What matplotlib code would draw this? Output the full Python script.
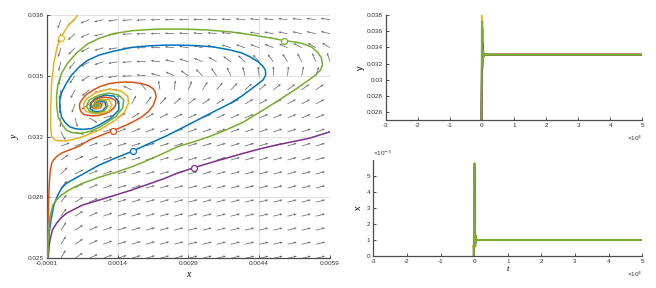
import numpy as np
import matplotlib
matplotlib.use('Agg')
import matplotlib.pyplot as plt

# ---------------- phase portrait trajectories (x, y) ----------------
blue_x = [-0.000077, -0.000069, -0.000052, -0.000010, 0.000052, 0.000135, 0.000219, 0.000317, 0.000594, 0.001010,
          0.001358, 0.001713, 0.002052, 0.002400, 0.002740, 0.003094, 0.003442, 0.003788, 0.004031, 0.004204,
          0.004344, 0.004483, 0.004538, 0.004531, 0.004483, 0.004385, 0.004204, 0.004031, 0.003788, 0.003442,
          0.003094, 0.002740, 0.002400, 0.002052, 0.001704, 0.001323, 0.001010, 0.000760, 0.000594, 0.000427,
          0.000317, 0.000219, 0.000177, 0.000177, 0.000213, 0.000281, 0.000385, 0.000510, 0.000663, 0.000844,
          0.001010, 0.001260, 0.001427, 0.001427, 0.001323, 0.001135, 0.000948, 0.000823, 0.000823, 0.000927,
          0.001073, 0.001156, 0.001135, 0.001010, 0.000927, 0.000927, 0.000990, 0.000990, 0.000927, 0.000885]
blue_y = [0.02480, 0.02544, 0.02624, 0.02705, 0.02785, 0.02838, 0.02876, 0.02901, 0.02940, 0.02998,
          0.03036, 0.03072, 0.03111, 0.03150, 0.03193, 0.03239, 0.03284, 0.03328, 0.03367, 0.03399,
          0.03426, 0.03453, 0.03479, 0.03506, 0.03524, 0.03549, 0.03577, 0.03597, 0.03613, 0.03629,
          0.03636, 0.03639, 0.03639, 0.03635, 0.03627, 0.03607, 0.03586, 0.03557, 0.03524, 0.03479,
          0.03435, 0.03388, 0.03346, 0.03303, 0.03256, 0.03228, 0.03203, 0.03192, 0.03189, 0.03193,
          0.03212, 0.03249, 0.03292, 0.03337, 0.03367, 0.03372, 0.03356, 0.03330, 0.03298, 0.03282,
          0.03287, 0.03308, 0.03335, 0.03340, 0.03330, 0.03308, 0.03308, 0.03319, 0.03319, 0.03314]

red_x = [-0.000088, -0.000083, -0.000073, -0.000060, -0.000046, -0.000031, -0.000010, 0.000004, 0.000042, 0.000108,
         0.000219, 0.000385, 0.000594, 0.000802, 0.001010, 0.001308, 0.001567, 0.001740, 0.001913, 0.002052,
         0.002156, 0.002219, 0.002198, 0.002156, 0.002052, 0.001913, 0.001740, 0.001567, 0.001385, 0.001219,
         0.001031, 0.000871, 0.000740, 0.000663, 0.000604, 0.000594, 0.000604, 0.000629, 0.000688, 0.000767,
         0.000885, 0.001010, 0.001115, 0.001219, 0.001302, 0.001358, 0.001365, 0.001358, 0.001254, 0.001094,
         0.000948, 0.000844, 0.000844, 0.000927, 0.001031, 0.001073, 0.001010, 0.000927, 0.000906, 0.000885]
red_y = [0.02480, 0.02571, 0.02678, 0.02811, 0.02892, 0.02954, 0.02988, 0.03007, 0.03025, 0.03043,
         0.03063, 0.03079, 0.03100, 0.03132, 0.03153, 0.03182, 0.03210, 0.03231, 0.03255, 0.03284,
         0.03317, 0.03362, 0.03388, 0.03406, 0.03423, 0.03433, 0.03440, 0.03442, 0.03439, 0.03433,
         0.03418, 0.03397, 0.03375, 0.03353, 0.03330, 0.03317, 0.03298, 0.03282, 0.03268, 0.03264,
         0.03261, 0.03264, 0.03271, 0.03282, 0.03298, 0.03317, 0.03332, 0.03344, 0.03356, 0.03362,
         0.03351, 0.03330, 0.03308, 0.03298, 0.03303, 0.03319, 0.03330, 0.03324, 0.03314, 0.03314]

yellow_x = [0.000635, 0.000510, 0.000385, 0.000281, 0.000198, 0.000121, 0.000052, 0.000004, -0.000017, -0.000017,
            0.000004, 0.000073, 0.000177, 0.000317, 0.000490, 0.000663, 0.001010, 0.001358, 0.001552, 0.001635,
            0.001615, 0.001469, 0.001219, 0.000969, 0.000760, 0.000677, 0.000719, 0.000865, 0.001052, 0.001219,
            0.001281, 0.001219, 0.001073, 0.000948, 0.000885, 0.000927, 0.001010, 0.001031, 0.000969, 0.000906,
            0.000885]
yellow_y = [0.03826, 0.03784, 0.03752, 0.03714, 0.03677, 0.03629, 0.03543, 0.03436, 0.03308, 0.03201,
            0.03151, 0.03132, 0.03127, 0.03128, 0.03137, 0.03150, 0.03185, 0.03239, 0.03282, 0.03330,
            0.03367, 0.03394, 0.03404, 0.03388, 0.03356, 0.03324, 0.03287, 0.03274, 0.03274, 0.03287,
            0.03319, 0.03346, 0.03351, 0.03340, 0.03319, 0.03303, 0.03303, 0.03319, 0.03324, 0.03319,
            0.03314]

purple_x = [-0.000073, -0.000067, -0.000052, -0.000031, 0.000021, 0.000108, 0.000198, 0.000317, 0.000490, 0.000663,
            0.001010, 0.001358, 0.001704, 0.002052, 0.002400, 0.002677, 0.003017, 0.003371, 0.003719, 0.004067,
            0.004406, 0.004760, 0.005108, 0.005454, 0.005802, 0.006010]
purple_y = [0.02480, 0.02500, 0.02555, 0.02598, 0.02651, 0.02687, 0.02715, 0.02740, 0.02763, 0.02785,
            0.02811, 0.02838, 0.02865, 0.02896, 0.02927, 0.02956, 0.02984, 0.03011, 0.03036, 0.03061,
            0.03084, 0.03105, 0.03123, 0.03141, 0.03168, 0.03185]

green_x = [-0.000077, -0.000077, -0.000067, -0.000031, 0.000031, 0.000108, 0.000198, 0.000317, 0.000490, 0.000663,
           0.001010, 0.001358, 0.001704, 0.002052, 0.002400, 0.002677, 0.003025, 0.003371, 0.003719, 0.004067,
           0.004483, 0.004823, 0.005177, 0.005448, 0.005594, 0.005698, 0.005740, 0.005719, 0.005635, 0.005510,
           0.005344, 0.005177, 0.004927, 0.004656, 0.004483, 0.004135, 0.003788, 0.003302, 0.002817, 0.002260,
           0.001704, 0.001323, 0.001010, 0.000760, 0.000525, 0.000344, 0.000213, 0.000135, 0.000108, 0.000115,
           0.000142, 0.000219, 0.000317, 0.000427, 0.000594, 0.000802, 0.001010, 0.001358, 0.001510, 0.001531,
           0.001427, 0.001219, 0.001010, 0.000802, 0.000740, 0.000802, 0.000948, 0.001115, 0.001198, 0.001156,
           0.001031, 0.000927, 0.000906, 0.000969, 0.001010, 0.000948, 0.000885]
green_y = [0.02480, 0.02502, 0.02598, 0.02722, 0.02785, 0.02811, 0.02835, 0.02856, 0.02881, 0.02901,
           0.02933, 0.02959, 0.02989, 0.03025, 0.03064, 0.03097, 0.03123, 0.03153, 0.03188, 0.03228,
           0.03292, 0.03346, 0.03404, 0.03452, 0.03479, 0.03506, 0.03533, 0.03570, 0.03602, 0.03629,
           0.03645, 0.03655, 0.03663, 0.03677, 0.03684, 0.03698, 0.03710, 0.03720, 0.03725, 0.03725,
           0.03716, 0.03701, 0.03675, 0.03645, 0.03595, 0.03543, 0.03488, 0.03426, 0.03363, 0.03308,
           0.03256, 0.03217, 0.03185, 0.03172, 0.03167, 0.03177, 0.03199, 0.03256, 0.03303, 0.03346,
           0.03372, 0.03383, 0.03372, 0.03346, 0.03314, 0.03287, 0.03276, 0.03287, 0.03314, 0.03340,
           0.03346, 0.03335, 0.03314, 0.03308, 0.03319, 0.03324, 0.03314]

# initial points (circles): blue, red, yellow, purple, green
start_x = [0.001719, 0.001308, 0.000198, 0.003017, 0.004933]
start_y = [0.03072, 0.03182, 0.03677, 0.02984, 0.03659]

# ---------------- direction field ----------------
field_x = [-0.0001, 0.0002, 0.0005, 0.0008, 0.0011, 0.0014, 0.0017, 0.0020, 0.0023, 0.0026, 0.0029,
           0.0032, 0.0035, 0.0038, 0.0041, 0.0044, 0.0047, 0.0050, 0.0053, 0.0056, 0.0059]
field_y = [0.025, 0.02575, 0.0265, 0.02725, 0.028, 0.02875, 0.0295, 0.03025, 0.031,
           0.03175, 0.0325, 0.03325, 0.034, 0.03475, 0.0355, 0.03625, 0.037, 0.03775]
# on-screen arrow direction (degrees), rows from top (y=0.03775) to bottom (y=0.025)
field_angle_top_down = [
    [270, 250, 218, 202, 193, 188, 185, 183, 181, 180, 179, 178, 177, 176, 175, 174, 174, 173, 173, 172, 172],
    [270, 252, 222, 204, 194, 188, 184, 181, 179, 177, 176, 175, 174, 173, 172, 171, 170, 169, 168, 167, 166],
    [270, 254, 226, 207, 196, 189, 184, 180, 177, 174, 171, 168, 165, 163, 161, 159, 157, 155, 152, 150, 148],
    [270, 256, 230, 210, 198, 190, 183, 178, 173, 168, 162, 156, 150, 144, 138, 132, 127, 122, 117, 112, 108],
    [270, 258, 235, 214, 200, 190, 182, 174, 165, 155, 145, 135, 125, 115, 105, 97, 90, 84, 78, 72, 66],
    [270, 260, 242, 220, 198, 175, 155, 128, 100, 82, 68, 58, 51, 46, 42, 40, 38, 37, 36, 35, 35],
    [270, 262, 250, 215, 150, 85, 62, 53, 47, 42, 38, 35, 33, 31, 30, 29, 29, 28, 28, 28, 28],
    [270, 266, 285, 330, 15, 30, 33, 30, 28, 26, 25, 24, 24, 23, 23, 22, 22, 22, 22, 22, 22],
    [270, 300, 345, 10, 18, 22, 22, 21, 20, 20, 20, 19, 19, 19, 19, 19, 19, 19, 19, 19, 19],
    [90, 20, 20, 20, 19, 18, 18, 18, 17, 17, 17, 17, 17, 17, 17, 17, 17, 17, 17, 17, 17],
    [90, 35, 25, 21, 19, 18, 17, 17, 17, 16, 16, 16, 16, 16, 16, 16, 16, 16, 16, 16, 16],
    [90, 45, 28, 22, 19, 18, 17, 16, 16, 16, 16, 16, 15, 15, 15, 15, 15, 15, 15, 15, 15],
    [90, 50, 30, 23, 20, 18, 17, 16, 16, 15, 15, 15, 15, 15, 15, 15, 15, 15, 15, 15, 15],
    [90, 52, 31, 23, 20, 18, 17, 16, 16, 15, 15, 15, 15, 14, 14, 14, 14, 14, 14, 14, 14],
    [90, 54, 32, 24, 20, 18, 17, 16, 15, 15, 15, 14, 14, 14, 14, 14, 14, 14, 14, 14, 14],
    [90, 56, 33, 24, 20, 18, 17, 16, 15, 15, 14, 14, 14, 14, 14, 14, 14, 14, 14, 14, 14],
    [90, 58, 34, 25, 21, 18, 17, 16, 15, 15, 14, 14, 14, 14, 14, 13, 13, 13, 13, 13, 13],
    [90, 60, 35, 25, 21, 18, 17, 16, 15, 15, 14, 14, 14, 14, 13, 13, 13, 13, 13, 13, 13],
]

# phase-plot ticks
phase_xticks = [-0.0001, 0.0014, 0.0029, 0.0044, 0.0059]
phase_xticklabels = ['-0.0001', '0.0014', '0.0029', '0.0044', '0.0059']
phase_yticks = [0.025, 0.02825, 0.0315, 0.03475, 0.038]
phase_yticklabels = ['0.025', '0.028', '0.032', '0.035', '0.038']

# ---------------- time series ----------------
ts_t = [-300, -100, 0, 100, 200, 300, 400, 500, 700, 1000, 50000]
ts_y_blue = [0.0200, 0.0270, 0.0307, 0.0364, 0.0340, 0.0319, 0.0334, 0.0329, 0.0331, 0.0331, 0.0331]
ts_y_red = [0.0200, 0.0280, 0.0318, 0.0344, 0.0328, 0.0334, 0.0330, 0.0331, 0.0331, 0.0331, 0.0331]
ts_y_yellow = [0.0450, 0.0400, 0.0368, 0.0313, 0.0338, 0.0327, 0.0333, 0.0330, 0.0331, 0.0331, 0.0331]
ts_y_purple = [0.0200, 0.0260, 0.0298, 0.0320, 0.0345, 0.0335, 0.0328, 0.0332, 0.0331, 0.0331, 0.0331]
ts_y_green = [0.0200, 0.0270, 0.0366, 0.0372, 0.0330, 0.0318, 0.0336, 0.0328, 0.0332, 0.0331, 0.0331]
ts_x_blue = [-0.0001, -0.00005, 0.00172, 0.0045, 0.0016, 0.0008, 0.0012, 0.0010, 0.0010, 0.0010, 0.0010]
ts_x_red = [-0.0001, -0.00005, 0.00131, 0.0022, 0.0007, 0.0013, 0.0009, 0.0010, 0.0010, 0.0010, 0.0010]
ts_x_yellow = [0.0006, 0.0003, 0.0002, 0.0016, 0.0007, 0.0012, 0.0009, 0.0010, 0.0010, 0.0010, 0.0010]
ts_x_purple = [-0.0001, -0.00005, 0.00302, 0.0056, 0.0025, 0.0007, 0.0012, 0.0010, 0.0010, 0.0010, 0.0010]
ts_x_green = [-0.0001, -0.00005, 0.00493, 0.0058, 0.0020, 0.0006, 0.0013, 0.0009, 0.0010, 0.0010, 0.0010]

t_ticks = [-30000, -20000, -10000, 0, 10000, 20000, 30000, 40000, 50000]
t_ticklabels = ['-3', '-2', '-1', '0', '1', '2', '3', '4', '5']
ts_y_ticks = [0.026, 0.028, 0.03, 0.032, 0.034, 0.036, 0.038]
ts_y_ticklabels = ['0.026', '0.028', '0.03', '0.032', '0.034', '0.036', '0.038']
ts_x_ticks = [0, 0.001, 0.002, 0.003, 0.004, 0.005]
ts_x_ticklabels = ['0', '1', '2', '3', '4', '5']

# ---------------- style ----------------
C_BLUE, C_RED, C_YEL, C_PUR, C_GRN = '#0072BD', '#D95319', '#EDB120', '#7E2F8E', '#77AC30'
colors = [C_BLUE, C_RED, C_YEL, C_PUR, C_GRN]
SPINE = '#4d4d4d'
TICKFONT = dict(family='Liberation Sans', size=4.6, color='#333333')

fig = plt.figure(figsize=(6.56, 2.88), dpi=100)
fig.patch.set_facecolor('white')


def style_axes(ax):
    for s in ['top', 'right']:
        ax.spines[s].set_visible(False)
    for s in ['left', 'bottom']:
        ax.spines[s].set_color(SPINE)
        ax.spines[s].set_linewidth(0.9)
    ax.tick_params(direction='in', length=2.5, width=0.7, color=SPINE, pad=2)


# ---- left: phase portrait ----
ax1 = fig.add_axes([46.7 / 656, (288 - 258.3) / 288, 283.3 / 656, 243.3 / 288])
style_axes(ax1)
ax1.set_xlim(-0.0001, 0.0059)
ax1.set_ylim(0.025, 0.038)
ax1.set_xticks(phase_xticks)
ax1.set_xticklabels(phase_xticklabels, fontdict=TICKFONT)
ax1.set_yticks(phase_yticks)
ax1.set_yticklabels(phase_yticklabels, fontdict=TICKFONT)
ax1.grid(True, color='#dcdcdc', linewidth=0.6)
ax1.set_axisbelow(True)

FX, FY = np.meshgrid(field_x, field_y)
ang = np.deg2rad(np.array(field_angle_top_down[::-1], dtype=float))
ax1.quiver(FX, FY, np.cos(ang), np.sin(ang), angles='uv', units='inches',
           scale_units='inches', scale=10.5, width=0.0075, headwidth=3.2,
           headlength=3.8, headaxislength=3.4, pivot='tail', color='#6a6a6a', zorder=2)

trajs = [(blue_x, blue_y), (red_x, red_y), (yellow_x, yellow_y), (purple_x, purple_y), (green_x, green_y)]
for (tx, ty), c in zip(trajs, colors):
    ax1.plot(tx, ty, color=c, lw=1.1, zorder=3, solid_joinstyle='round')
for sx, sy, c in zip(start_x, start_y, colors):
    ax1.plot([sx], [sy], 'o', ms=4.3, mfc='white', mec=c, mew=0.9, zorder=4)

ax1.set_xlabel('x', family='Liberation Serif', style='italic', size=7, labelpad=3)
ax1.set_ylabel('y', family='Liberation Serif', style='italic', size=7, labelpad=6)

# ---- right top: y(t) ----
ax2 = fig.add_axes([385.7 / 656, (288 - 120.4) / 288, 256.6 / 656, 105.4 / 288])
style_axes(ax2)
ax2.set_xlim(-30000, 50000)
ax2.set_ylim(0.025, 0.038)
ax2.set_xticks(t_ticks)
ax2.set_xticklabels(t_ticklabels, fontdict=TICKFONT)
ax2.set_yticks(ts_y_ticks)
ax2.set_yticklabels(ts_y_ticklabels, fontdict=TICKFONT)
for yy, c in zip([ts_y_blue, ts_y_red, ts_y_yellow, ts_y_purple, ts_y_green], colors):
    ax2.plot(ts_t, yy, color=c, lw=1.4)
ax2.set_ylabel('y', family='Liberation Sans', size=6.5, labelpad=1)
ax2.text(1.0, -0.13, '\u00d710$^{4}$', transform=ax2.transAxes, ha='right', va='top',
         family='Liberation Sans', size=4.6, color='#333333')

# ---- right bottom: x(t) ----
ax3 = fig.add_axes([373.3 / 656, (288 - 256) / 288, 269 / 656, 96 / 288])
style_axes(ax3)
ax3.set_xlim(-30000, 50000)
ax3.set_ylim(0, 0.006)
ax3.set_xticks(t_ticks)
ax3.set_xticklabels(t_ticklabels, fontdict=TICKFONT)
ax3.set_yticks(ts_x_ticks)
ax3.set_yticklabels(ts_x_ticklabels, fontdict=TICKFONT)
for xx, c in zip([ts_x_blue, ts_x_red, ts_x_yellow, ts_x_purple, ts_x_green], colors):
    ax3.plot(ts_t, xx, color=c, lw=1.4)
ax3.set_ylabel('x', family='Liberation Sans', size=6.5, labelpad=3)
ax3.set_xlabel('t', family='Liberation Serif', style='italic', size=6.5, labelpad=1)
ax3.text(0.0, 1.02, '\u00d710$^{-3}$', transform=ax3.transAxes, ha='left', va='bottom',
         family='Liberation Sans', size=4.6, color='#333333')
ax3.text(1.0, -0.14, '\u00d710$^{4}$', transform=ax3.transAxes, ha='right', va='top',
         family='Liberation Sans', size=4.6, color='#333333')

fig.savefig('out.png', dpi=100, facecolor='white')
